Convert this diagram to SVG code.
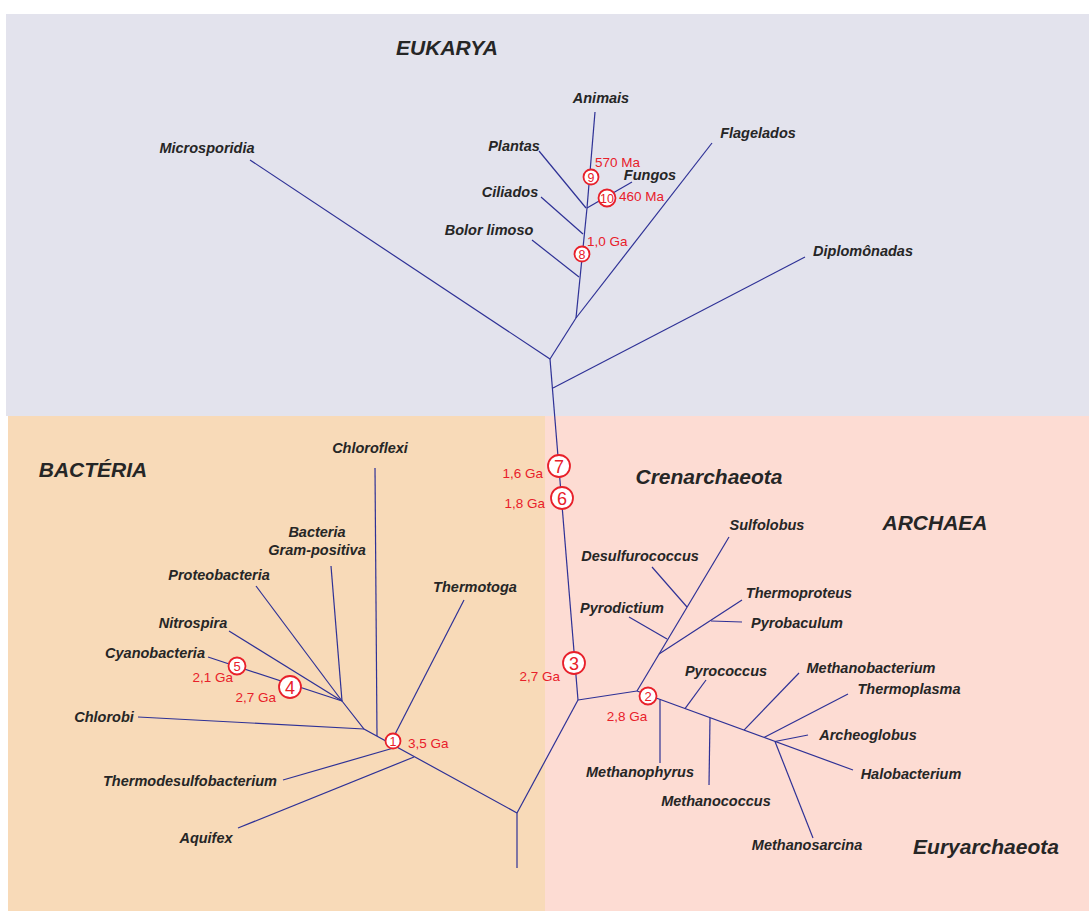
<svg xmlns="http://www.w3.org/2000/svg" width="1089" height="911" viewBox="0 0 1089 911">
<style>
.lbl{font-family:"Liberation Sans",Arial,sans-serif;font-weight:bold;font-style:italic;font-size:14.5px;fill:#262626;text-anchor:middle}
.big{font-family:"Liberation Sans",Arial,sans-serif;font-weight:bold;font-style:italic;font-size:21px;fill:#262626;text-anchor:middle}
.age{font-family:"Liberation Sans",Arial,sans-serif;font-size:13.5px;fill:#e8202a}
.num{font-family:"Liberation Sans",Arial,sans-serif;fill:#e8202a;text-anchor:middle}
.c{fill:#ffffff;stroke:#e8202a;stroke-width:1.8}
#connectors line,#connectors polyline{stroke:#2e3196;stroke-width:1.2;fill:none}
</style>
<rect width="1089" height="911" fill="#ffffff"/>
<rect id="eukarya-bg" x="6" y="14" width="1083" height="402" fill="#e3e3ed"/>
<rect id="bacteria-bg" x="8" y="416" width="537" height="495" fill="#f8dab8"/>
<rect id="archaea-bg" x="545" y="416" width="544" height="495" fill="#fddcd3"/>

<g id="connectors">
  <line x1="517" y1="868" x2="517" y2="813"/>
  <line x1="517" y1="813" x2="578" y2="700"/>
  <line x1="578" y1="700" x2="550" y2="359"/>
  <line x1="550" y1="359" x2="250" y2="160"/>
  <line x1="553" y1="388" x2="805" y2="257"/>
  <line x1="550" y1="359" x2="576" y2="318"/>
  <line x1="576" y1="318" x2="712" y2="143"/>
  <line x1="576" y1="318" x2="587" y2="208"/>
  <line x1="532" y1="240" x2="579" y2="277"/>
  <line x1="541" y1="197" x2="583" y2="234"/>
  <line x1="539" y1="151" x2="586" y2="208"/>
  <line x1="587" y1="208" x2="632" y2="182"/>
  <line x1="587" y1="208" x2="595" y2="112"/>
  <polyline points="517,813 364,729 342,701"/>
  <line x1="238" y1="828" x2="414" y2="757"/>
  <line x1="283" y1="780" x2="397" y2="747"/>
  <line x1="464" y1="600" x2="391" y2="742"/>
  <line x1="375" y1="468" x2="377" y2="736"/>
  <line x1="138" y1="717" x2="364" y2="729"/>
  <line x1="331" y1="566" x2="342" y2="701"/>
  <line x1="256" y1="586" x2="342" y2="701"/>
  <line x1="229" y1="631" x2="342" y2="701"/>
  <line x1="208" y1="657" x2="342" y2="701"/>
  <line x1="578" y1="700" x2="637" y2="691"/>
  <line x1="637" y1="691" x2="729" y2="537"/>
  <line x1="652" y1="567" x2="687" y2="607"/>
  <line x1="629" y1="617" x2="667" y2="639"/>
  <line x1="659" y1="654" x2="742" y2="600"/>
  <line x1="711" y1="621" x2="742" y2="622"/>
  <line x1="637" y1="691" x2="853" y2="770"/>
  <line x1="660" y1="699.4" x2="660" y2="763"/>
  <line x1="685" y1="708.6" x2="706" y2="680"/>
  <line x1="710" y1="717.7" x2="709" y2="785"/>
  <line x1="744" y1="730.2" x2="799" y2="673"/>
  <line x1="764" y1="737.5" x2="848" y2="694"/>
  <line x1="775" y1="741.5" x2="808" y2="735"/>
  <line x1="775" y1="741.5" x2="813" y2="838"/>
</g>

<g id="region-labels">
  <text class="big" x="447" y="55">EUKARYA</text>
  <text class="big" x="93" y="477">BACTÉRIA</text>
  <text class="big" x="709" y="484">Crenarchaeota</text>
  <text class="big" x="935" y="530">ARCHAEA</text>
  <text class="big" x="986" y="854">Euryarchaeota</text>
</g>

<g id="eukarya-nodes">
  <g id="n-animais"><text class="lbl" x="601" y="103">Animais</text></g>
  <g id="n-plantas"><text class="lbl" x="514" y="151">Plantas</text></g>
  <g id="n-fungos"><text class="lbl" x="650" y="180">Fungos</text></g>
  <g id="n-ciliados"><text class="lbl" x="510" y="197">Ciliados</text></g>
  <g id="n-bolor"><text class="lbl" x="489" y="235">Bolor limoso</text></g>
  <g id="n-microsporidia"><text class="lbl" x="207" y="153">Microsporidia</text></g>
  <g id="n-flagelados"><text class="lbl" x="758" y="138">Flagelados</text></g>
  <g id="n-diplomonadas"><text class="lbl" x="863" y="256">Diplomônadas</text></g>
</g>

<g id="bacteria-nodes">
  <g id="n-chloroflexi"><text class="lbl" x="370" y="453">Chloroflexi</text></g>
  <g id="n-grampos"><text class="lbl" x="317" y="537">Bacteria</text><text class="lbl" x="317" y="555">Gram-positiva</text></g>
  <g id="n-proteobacteria"><text class="lbl" x="219" y="580">Proteobacteria</text></g>
  <g id="n-thermotoga"><text class="lbl" x="475" y="592">Thermotoga</text></g>
  <g id="n-nitrospira"><text class="lbl" x="193" y="628">Nitrospira</text></g>
  <g id="n-cyanobacteria"><text class="lbl" x="155" y="658">Cyanobacteria</text></g>
  <g id="n-chlorobi"><text class="lbl" x="104" y="722">Chlorobi</text></g>
  <g id="n-thermodesulfo"><text class="lbl" x="190" y="786">Thermodesulfobacterium</text></g>
  <g id="n-aquifex"><text class="lbl" x="206" y="843">Aquifex</text></g>
</g>

<g id="archaea-nodes">
  <g id="n-sulfolobus"><text class="lbl" x="767" y="530">Sulfolobus</text></g>
  <g id="n-desulfurococcus"><text class="lbl" x="640" y="561">Desulfurococcus</text></g>
  <g id="n-pyrodictium"><text class="lbl" x="622" y="613">Pyrodictium</text></g>
  <g id="n-thermoproteus"><text class="lbl" x="799" y="598">Thermoproteus</text></g>
  <g id="n-pyrobaculum"><text class="lbl" x="797" y="628">Pyrobaculum</text></g>
  <g id="n-pyrococcus"><text class="lbl" x="726" y="676">Pyrococcus</text></g>
  <g id="n-methanobacterium"><text class="lbl" x="871" y="673">Methanobacterium</text></g>
  <g id="n-thermoplasma"><text class="lbl" x="909" y="694">Thermoplasma</text></g>
  <g id="n-archeoglobus"><text class="lbl" x="868" y="740">Archeoglobus</text></g>
  <g id="n-halobacterium"><text class="lbl" x="911" y="779">Halobacterium</text></g>
  <g id="n-methanophyrus"><text class="lbl" x="640" y="777">Methanophyrus</text></g>
  <g id="n-methanococcus"><text class="lbl" x="716" y="806">Methanococcus</text></g>
  <g id="n-methanosarcina"><text class="lbl" x="807" y="850">Methanosarcina</text></g>
</g>

<g id="events">
  <g id="e1"><circle class="c" cx="393" cy="741" r="7.5"/><text class="num" x="393" y="745.5" font-size="12.5">1</text><text class="age" x="408" y="748">3,5 Ga</text></g>
  <g id="e2"><circle class="c" cx="648" cy="696" r="8.5"/><text class="num" x="648" y="700.5" font-size="13">2</text><text class="age" x="627" y="721" text-anchor="middle">2,8 Ga</text></g>
  <g id="e3"><circle class="c" cx="574" cy="663" r="11"/><text class="num" x="574" y="669.5" font-size="18">3</text><text class="age" x="560" y="681" text-anchor="end">2,7 Ga</text></g>
  <g id="e4"><circle class="c" cx="290" cy="687" r="11"/><text class="num" x="290" y="693.5" font-size="18">4</text><text class="age" x="276" y="702" text-anchor="end">2,7 Ga</text></g>
  <g id="e5"><circle class="c" cx="237" cy="666" r="8.5"/><text class="num" x="237" y="670.5" font-size="13">5</text><text class="age" x="233" y="682" text-anchor="end">2,1 Ga</text></g>
  <g id="e6"><circle class="c" cx="562" cy="498" r="11"/><text class="num" x="562" y="504.5" font-size="18">6</text><text class="age" x="545" y="508" text-anchor="end">1,8 Ga</text></g>
  <g id="e7"><circle class="c" cx="559" cy="466" r="11"/><text class="num" x="559" y="472.5" font-size="18">7</text><text class="age" x="543" y="478" text-anchor="end">1,6 Ga</text></g>
  <g id="e8"><circle class="c" cx="582" cy="254" r="7.5"/><text class="num" x="582" y="258.5" font-size="12.5">8</text><text class="age" x="587" y="246">1,0 Ga</text></g>
  <g id="e9"><circle class="c" cx="591" cy="177" r="7.5"/><text class="num" x="591" y="181.5" font-size="12.5">9</text><text class="age" x="595" y="167">570 Ma</text></g>
  <g id="e10"><circle class="c" cx="607" cy="198" r="8.5"/><text class="num" x="607" y="202.5" font-size="12.5">10</text><text class="age" x="619" y="201">460 Ma</text></g>
</g>
</svg>
